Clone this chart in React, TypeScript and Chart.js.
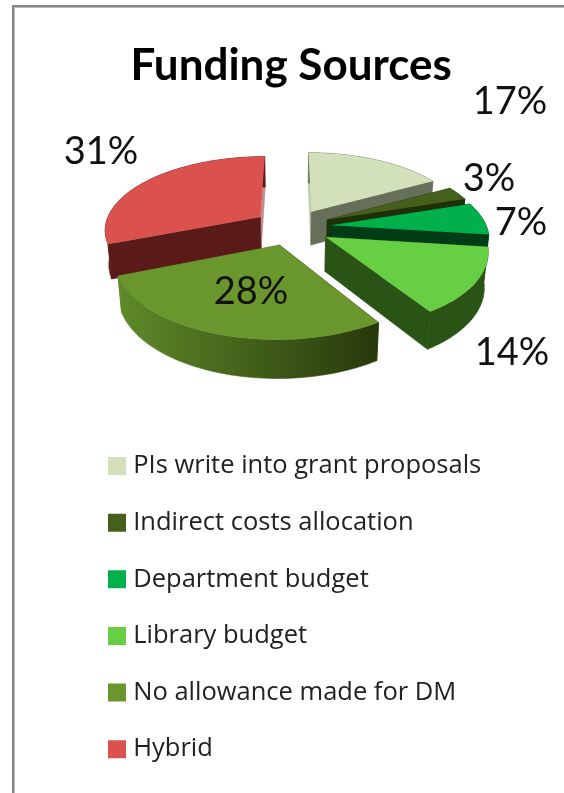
import React, { useEffect, useRef } from "react";
import { Chart, registerables } from "chart.js";

Chart.register(...registerables);

const categories = [
  "PIs write into grant proposals",
  "Indirect costs allocation",
  "Department budget",
  "Library budget",
  "No allowance made for DM",
  "Hybrid",
];
const shares = [17, 3, 7, 14, 28, 31];
const topColors = ["#d2e1b9", "#44601b", "#00b04a", "#66cf44", "#6a962e", "#db514e"];
const startFaceColors = ["#b9c2ab", "#1f3009", "#003d16", "#2a5415", "#2a3c0c", "#5a1a17"];
const endFaceColors = ["#656f59", "#1f3009", "#003d16", "#2a5415", "#5f8a29", "#c08c88"];
const rimStops = [
  ["#656f59", "#656f59"],
  ["#1f3009", "#1f3009"],
  ["#003d16", "#003d16"],
  ["#2a5415", "#2a5415"],
  ["#5f8a29", "#27380b"],
  ["#5a1a17", "#5a1a17"],
];
const labelTexts = ["17%", "3%", "7%", "14%", "28%", "31%"];
const labelAnchors = [
  [510, 102],
  [489, 179],
  [521, 223],
  [512, 353],
  [251, 292],
  [101, 152],
];

const CX = 292;
const CY = 227;
const AX = 156;
const AY = 73;
const K = 0.16;
const DEPTH = 34;

type P = { x: number; y: number };
const topPoint = (u: number, v: number): P => {
  const w = 1 + K * v;
  return { x: CX + (AX * u) / w, y: CY - (AY * v) / w };
};
const basePoint = (u: number, v: number): P => {
  const t = topPoint(u, v);
  return { x: CX + (t.x - CX) * 0.98, y: t.y + DEPTH / (1 + 0.1 * v) };
};

const pie3d = {
  id: "pie3d",
  beforeDatasetDraw(chart: any) {
    const ctx = chart.ctx;
    const arcs = chart.getDatasetMeta(0).data;
    const slices = arcs.map((el: any, i: number) => {
      const a0 = el.startAngle + Math.PI / 2;
      const a1 = el.endAngle + Math.PI / 2;
      const mid = (a0 + a1) / 2;
      const e = el.options.offset / el.outerRadius;
      return { i, a0, a1, ou: e * Math.sin(mid), ov: e * Math.cos(mid) };
    });
    slices.sort((p: any, q: any) => q.ov - p.ov);
    for (const s of slices) {
      const n = 60;
      const rim: [number, number][] = [];
      for (let j = 0; j <= n; j++) {
        const a = s.a0 + ((s.a1 - s.a0) * j) / n;
        rim.push([s.ou + Math.sin(a), s.ov + Math.cos(a)]);
      }
      const quad = (u1: number, v1: number, u2: number, v2: number, fill: any) => {
        const a = topPoint(u1, v1), b = topPoint(u2, v2), c = basePoint(u2, v2), d = basePoint(u1, v1);
        ctx.beginPath();
        ctx.moveTo(a.x, a.y);
        ctx.lineTo(b.x, b.y);
        ctx.lineTo(c.x, c.y);
        ctx.lineTo(d.x, d.y);
        ctx.closePath();
        ctx.fillStyle = fill;
        ctx.strokeStyle = fill;
        ctx.lineWidth = 0.6;
        ctx.fill();
        ctx.stroke();
      };
      const first = rim[0];
      const last = rim[n];
      // cut faces, farther one first
      const faces = [
        { f: first, c: startFaceColors[s.i] },
        { f: last, c: endFaceColors[s.i] },
      ].sort((p, q) => q.f[1] - p.f[1]);
      for (const face of faces) quad(s.ou, s.ov, face.f[0], face.f[1], face.c);
      // outer wall
      const xs = rim.map((r) => topPoint(r[0], r[1]).x);
      const g = ctx.createLinearGradient(Math.min(...xs), 0, Math.max(...xs), 0);
      g.addColorStop(0, rimStops[s.i][0]);
      g.addColorStop(1, rimStops[s.i][1]);
      ctx.beginPath();
      rim.forEach((r, j) => {
        const t = topPoint(r[0], r[1]);
        if (j === 0) ctx.moveTo(t.x, t.y);
        else ctx.lineTo(t.x, t.y);
      });
      for (let j = n; j >= 0; j--) {
        const t = basePoint(rim[j][0], rim[j][1]);
        ctx.lineTo(t.x, t.y);
      }
      ctx.closePath();
      ctx.fillStyle = g;
      ctx.strokeStyle = g;
      ctx.lineWidth = 0.6;
      ctx.fill();
      ctx.stroke();
      // top face
      const apex = topPoint(s.ou, s.ov);
      ctx.beginPath();
      ctx.moveTo(apex.x, apex.y);
      rim.forEach((r) => {
        const t = topPoint(r[0], r[1]);
        ctx.lineTo(t.x, t.y);
      });
      ctx.closePath();
      ctx.fillStyle = topColors[s.i];
      ctx.fill();
    }
    return false;
  },
  afterDatasetsDraw(chart: any) {
    const ctx = chart.ctx;
    ctx.save();
    ctx.font = '38px Lato, "Open Sans", sans-serif';
    ctx.fillStyle = "#111";
    ctx.textAlign = "center";
    ctx.textBaseline = "middle";
    labelTexts.forEach((t, i) => ctx.fillText(t, labelAnchors[i][0], labelAnchors[i][1]));
    ctx.restore();
  },
};

const frame = {
  id: "frame",
  beforeDraw(chart: any) {
    const ctx = chart.ctx;
    ctx.save();
    ctx.fillStyle = "#ffffff";
    ctx.fillRect(0, 0, chart.width, chart.height);
    ctx.fillStyle = "#bbbbbb";
    ctx.fillRect(12, 7, chart.width - 12, 1);
    ctx.fillRect(14, 5, 1, chart.height - 5);
    ctx.fillStyle = "#868686";
    ctx.fillRect(12, 5, chart.width - 12, 2);
    ctx.fillRect(12, 5, 2, chart.height - 5);
    ctx.restore();
  },
};

export default function App() {
  const ref = useRef<HTMLCanvasElement>(null);
  useEffect(() => {
    const chart = new Chart(ref.current!, {
      type: "pie",
      data: {
        labels: categories,
        datasets: [
          {
            data: shares,
            backgroundColor: topColors,
            borderWidth: 0,
            radius: 160,
            cutout: "0%",
            offset: 40,
          } as any,
        ],
      },
      options: {
        animation: false,
        responsive: false,
        layout: { padding: { left: 82.375, right: 64, top: 0, bottom: 0 } },
        plugins: {
          tooltip: { enabled: false },
          title: {
            display: true,
            text: "Funding Sources",
            color: "#000",
            font: { family: 'Lato, "Open Sans", sans-serif', size: 44, weight: "bold" },
            padding: { top: 39, bottom: 10 },
          },
          legend: {
            position: "left",
            align: "end",
            maxWidth: 480,
            labels: {
              usePointStyle: true,
              pointStyle: "rect",
              boxWidth: 7,
              boxHeight: 18,
              padding: 31.125,
              color: "#222",
              font: { family: '"Open Sans", Lato, sans-serif', size: 25.5 },
            },
          },
        },
      } as any,
      plugins: [frame, pie3d],
    });
    return () => chart.destroy();
  }, []);
  return (
    <canvas
      ref={ref}
      width={564}
      height={793}
      style={{ position: "absolute", left: 0, top: 0, display: "block" }}
    />
  );
}
